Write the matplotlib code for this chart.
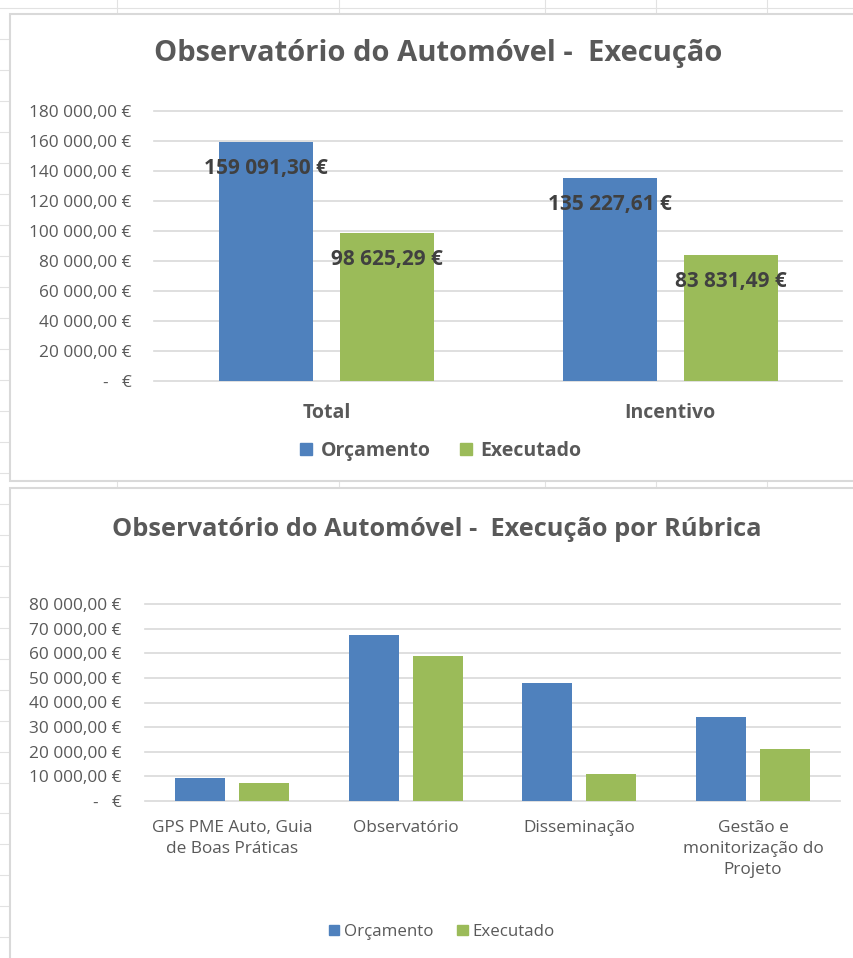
import numpy as np
import matplotlib
matplotlib.use('Agg')
import matplotlib.pyplot as plt
from matplotlib.patches import Rectangle, Patch
from matplotlib.ticker import FuncFormatter

# data
totals_cats = ['Total', 'Incentivo']
totals_orcamento = [159091.30, 135227.61]
totals_executado = [98625.29, 83831.49]

rubrica_cats = ['GPS PME Auto, Guia\nde Boas Práticas', 'Observatório',
                'Disseminação', 'Gestão e\nmonitorização do\nProjeto']
rubrica_orcamento = [9500, 67500, 48000, 34000]
rubrica_executado = [7300, 59000, 11100, 21200]

series_names = ['Orçamento', 'Executado']

BLUE = '#4F81BD'; GREEN = '#9BBB59'
GRAY = '#595959'; DARK = '#404040'; GRID = '#D9D9D9'; CELL = '#E2E2E2'
plt.rcParams['font.family'] = ['Open Sans', 'DejaVu Sans']

W, H = 854, 958


def fx(x):
    return x / W


def fy(y):
    return 1 - y / H


def euro(v):
    if abs(v) < 0.005:
        return '-   €'
    return f'{v:,.2f}'.replace(',', ' ').replace('.', ',') + ' €'


fig = plt.figure(figsize=(W / 100, H / 100), dpi=100)

# spreadsheet cells behind the charts
bg = fig.add_axes([0, 0, 1, 1])
bg.set_xlim(0, W); bg.set_ylim(H, 0); bg.axis('off')
for k in range(32):
    y = 8 + k * 30.98
    bg.plot([0, W], [y, y], color=CELL, lw=0.8, zorder=1)
for x in [117, 339, 545, 656, 767]:
    bg.plot([x, x], [0, H], color=CELL, lw=0.8, zorder=1)
bg.add_patch(Rectangle((10, 14), 870, 467, fc='white', ec=GRID, lw=1.5, zorder=3))
bg.add_patch(Rectangle((10, 488), 870, 490, fc='white', ec=GRID, lw=1.5, zorder=3))


def style_axis(ax, label_size, label_weight, pad_x, pad_y):
    for s in ax.spines.values():
        s.set_visible(False)
    ax.patch.set_alpha(0)
    ax.yaxis.grid(True, color=GRID, lw=1.2)
    ax.set_axisbelow(True)
    for ln in ax.get_ygridlines():
        ln.set_clip_on(False)
    ax.tick_params(axis='y', length=0, pad=pad_y, labelsize=12.4, labelcolor=GRAY)
    ax.tick_params(axis='x', length=0, pad=pad_x, labelsize=label_size, labelcolor=GRAY)
    for t in ax.get_xticklabels():
        t.set_fontweight(label_weight)
    ax.yaxis.set_major_formatter(FuncFormatter(lambda v, p: euro(v)))


# --- top chart ---
ax1 = fig.add_axes([fx(154.5), fy(381), (842 - 154.5) / W, (381 - 111) / H])
x1 = np.arange(len(totals_cats))
ax1.bar(x1 - 0.176, totals_orcamento, width=0.273, color=BLUE, zorder=2)
ax1.bar(x1 + 0.176, totals_executado, width=0.273, color=GREEN, zorder=2)
ax1.set_xlim(-0.5, 1.5)
ax1.set_ylim(0, 180000)
ax1.set_yticks(np.arange(0, 180001, 20000))
ax1.set_xticks(x1, totals_cats)
style_axis(ax1, 14, 'bold', 16, 16.5)
for xs, vals in [(x1 - 0.176, totals_orcamento), (x1 + 0.176, totals_executado)]:
    for xi, v in zip(xs, vals):
        ax1.annotate(euro(v), (xi, v), xytext=(0, -18.7), textcoords='offset points',
                     ha='center', va='center', fontsize=15, fontweight='bold',
                     color=DARK, zorder=5)

fig.text(fx(438), fy(53), 'Observatório do Automóvel -  Execução', ha='center',
         va='center', fontsize=21, fontweight='bold', color=GRAY)
handles = [Patch(color=BLUE, label=series_names[0]), Patch(color=GREEN, label=series_names[1])]
fig.legend(handles=handles, loc='center', bbox_to_anchor=(fx(441), fy(451)), ncol=2,
           frameon=False, prop={'size': 14, 'weight': 'bold'}, handlelength=0.6,
           handleheight=0.6, handletextpad=0.45, columnspacing=1.5, labelcolor=GRAY)

# --- bottom chart ---
ax2 = fig.add_axes([fx(145), fy(801), (840 - 145) / W, (801 - 604) / H])
x2 = np.arange(len(rubrica_cats))
ax2.bar(x2 - 0.184, rubrica_orcamento, width=0.288, color=BLUE, zorder=2)
ax2.bar(x2 + 0.184, rubrica_executado, width=0.288, color=GREEN, zorder=2)
ax2.set_xlim(-0.5, 3.5)
ax2.set_ylim(0, 80000)
ax2.set_yticks(np.arange(0, 80001, 10000))
ax2.set_xticks(x2, rubrica_cats)
style_axis(ax2, 12.4, 'normal', 14, 17)
for t in ax2.get_xticklabels():
    t.set_linespacing(1.4)
    t.set_multialignment('center')

fig.text(fx(437), fy(529), 'Observatório do Automóvel -  Execução por Rúbrica', ha='center',
         va='center', fontsize=18.3, fontweight='bold', color=GRAY)
fig.legend(handles=handles, loc='center', bbox_to_anchor=(fx(442), fy(932)), ncol=2,
           frameon=False, prop={'size': 12.2}, handlelength=0.6,
           handleheight=0.6, handletextpad=0.3, columnspacing=1.4, labelcolor=GRAY)

fig.savefig('out.png', dpi=100, facecolor='white')
